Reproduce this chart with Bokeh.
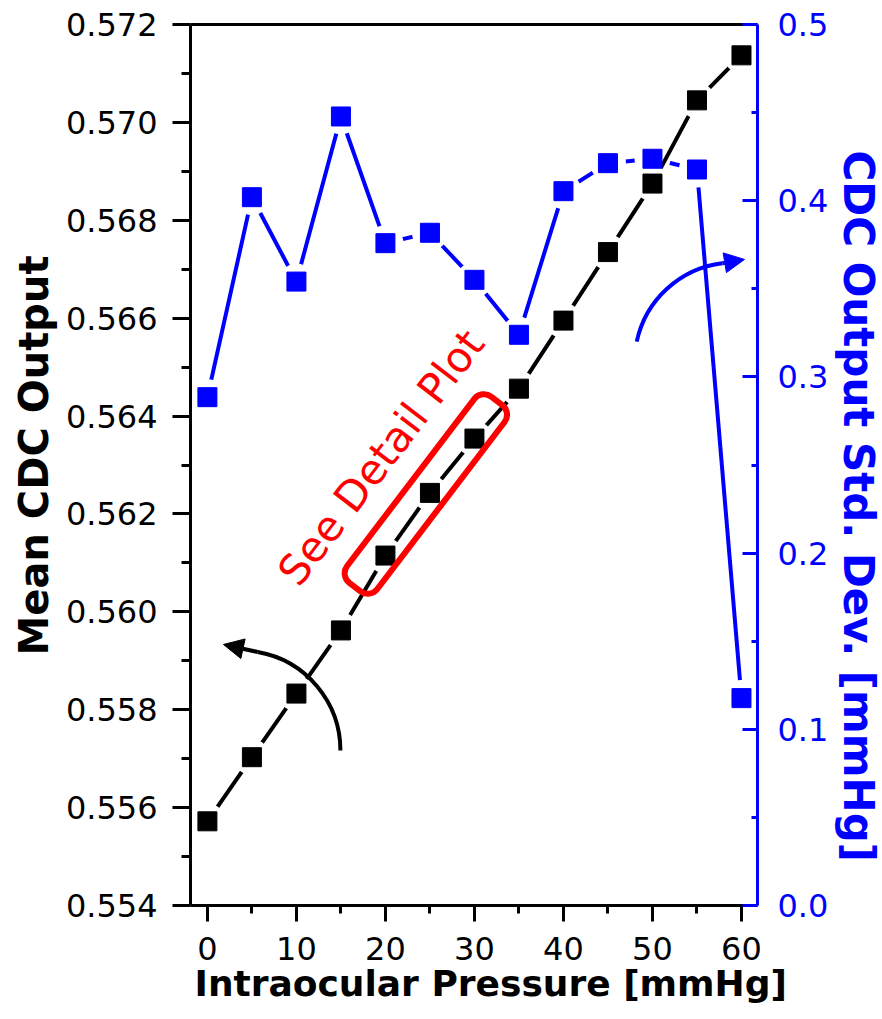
from bokeh.plotting import figure
from bokeh.models import (Range1d, LinearAxis, FixedTicker, PrintfTickFormatter,
                          Label, Arrow, NormalHead, Title)
from bokeh.embed import file_html
from bokeh.resources import INLINE

# ---------------- data ----------------
pressure = [0, 5, 10, 15, 20, 25, 30, 35, 40, 45, 50, 55, 60]
mean_cdc = [0.55572, 0.55703, 0.55833, 0.55962, 0.56115, 0.56243, 0.56354,
            0.56456, 0.56595, 0.56735, 0.56875, 0.57045, 0.57137]
std_cdc = [0.2885, 0.4020, 0.3541, 0.4478, 0.3759, 0.3818, 0.3551,
           0.3239, 0.4054, 0.4213, 0.4238, 0.4177, 0.1177]

x_ticks = [0, 10, 20, 30, 40, 50, 60]
x_minor = [5, 15, 25, 35, 45, 55]
left_ticks = [0.554, 0.556, 0.558, 0.560, 0.562, 0.564, 0.566, 0.568, 0.570, 0.572]
left_minor = [0.555, 0.557, 0.559, 0.561, 0.563, 0.565, 0.567, 0.569, 0.571]
right_ticks = [0.0, 0.1, 0.2, 0.3, 0.4, 0.5]
right_minor = [0.05, 0.15, 0.25, 0.35, 0.45]

x_title = "Intraocular Pressure [mmHg]"
left_title = "Mean CDC Output"
right_title = "CDC Output Std. Dev. [mmHg]"
note_text = "See Detail Plot"

BLUE = "#0000FF"
RED = "#FF0000"
FONT = "DejaVu Sans"

p = figure(width=882, height=1019,
           x_range=Range1d(-1.9, 61.8), y_range=Range1d(0.554, 0.572),
           output_backend="svg", toolbar_location=None,
           min_border_left=190, min_border_right=124,
           min_border_top=24, min_border_bottom=114)
p.extra_y_ranges = {"sd": Range1d(0.0, 0.5)}
p.xgrid.visible = False
p.ygrid.visible = False
p.outline_line_color = None
p.background_fill_color = "white"
p.border_fill_color = "white"


def style_axis(ax, color):
    ax.axis_line_width = 3
    ax.axis_line_color = color
    ax.major_tick_line_width = 3
    ax.minor_tick_line_width = 3
    ax.major_tick_line_color = color
    ax.minor_tick_line_color = color
    ax.major_label_text_font = FONT
    ax.major_label_text_font_size = "32px"
    ax.major_label_text_color = color


# bottom axis
xa = p.xaxis[0]
style_axis(xa, "black")
xa.ticker = FixedTicker(ticks=x_ticks, minor_ticks=x_minor)
xa.major_tick_out = 16
xa.major_tick_in = 0
xa.minor_tick_out = 8
xa.minor_tick_in = 0
xa.major_label_standoff = 15

# left axis
ya = p.yaxis[0]
style_axis(ya, "black")
ya.ticker = FixedTicker(ticks=left_ticks, minor_ticks=left_minor)
ya.formatter = PrintfTickFormatter(format="%.3f")
ya.major_tick_out = 18
ya.major_tick_in = 0
ya.minor_tick_out = 9
ya.minor_tick_in = 0
ya.major_label_standoff = 15

# right axis
ra = LinearAxis(y_range_name="sd",
                ticker=FixedTicker(ticks=right_ticks, minor_ticks=right_minor),
                formatter=PrintfTickFormatter(format="%.1f"))
style_axis(ra, BLUE)
ra.major_tick_in = 15
ra.major_tick_out = 0
ra.minor_tick_in = 6
ra.minor_tick_out = 0
ra.major_label_standoff = 20
p.add_layout(ra, "right")

# top frame line
ta = LinearAxis(ticker=FixedTicker(ticks=[]))
ta.axis_line_width = 3
ta.axis_line_color = "black"
ta.major_tick_out = 0
ta.major_tick_in = 0
ta.minor_tick_out = 0
ta.minor_tick_in = 0
ta.major_label_text_font_size = "0px"
p.add_layout(ta, "above")

# axis titles (outside the axes)
p.add_layout(Title(text=left_title, align="left", offset=250,
                   vertical_align="middle", standoff=10,
                   text_font=FONT, text_font_size="40px", text_font_style="bold",
                   text_color="black"), "left")
p.add_layout(Title(text=right_title, align="left", offset=126,
                   vertical_align="top", standoff=0,
                   text_font=FONT, text_font_size="42px", text_font_style="bold",
                   text_color=BLUE), "right")
p.add_layout(Title(text=x_title, align="left", offset=4,
                   vertical_align="top", standoff=0,
                   text_font=FONT, text_font_size="36px", text_font_style="bold",
                   text_color="black"), "below")

# ---------------- series ----------------
p.line(pressure, std_cdc, y_range_name="sd", line_color=BLUE, line_width=4)
p.scatter(pressure, std_cdc, y_range_name="sd", marker="circle", size=36,
          fill_color="white", line_color=None)
p.line(pressure, mean_cdc, line_color="black", line_width=4)
p.scatter(pressure, mean_cdc, marker="circle", size=36,
          fill_color="white", line_color=None)
p.scatter(pressure, std_cdc, y_range_name="sd", marker="square", size=19,
          fill_color=BLUE, line_color=BLUE)
p.scatter(pressure, mean_cdc, marker="square", size=19,
          fill_color="black", line_color="black")

# ---------------- annotations ----------------
# curved arrow pointing to the left axis
p.arc(x=[3.707], y=[0.557167], radius=100, radius_units="screen",
      start_angle=0, end_angle=80, start_angle_units="deg", end_angle_units="deg",
      line_color="black", line_width=4)
p.add_layout(Arrow(x_start=5.659, y_start=0.559180, x_end=1.801, y_end=0.559333,
                   line_color="black", line_width=4,
                   end=NormalHead(size=20, fill_color="black", line_color="black",
                                  line_width=1)))

# curved arrow pointing to the right axis
p.arc(x=[59.22], y=[0.565095], radius=100, radius_units="screen",
      start_angle=97, end_angle=168, start_angle_units="deg", end_angle_units="deg",
      line_color=BLUE, line_width=4)
p.add_layout(Arrow(x_start=57.85, y_start=0.567124, x_end=60.34, y_end=0.567200,
                   line_color=BLUE, line_width=4,
                   end=NormalHead(size=20, fill_color=BLUE, line_color=BLUE,
                                  line_width=1)))

# red rounded box and note
p.rect(x=[24.54], y=[0.562408], width=234, height=38,
       width_units="screen", height_units="screen",
       angle=52.7, angle_units="deg", fill_color=None,
       line_color=RED, line_width=6, border_radius=12)
p.add_layout(Label(x=19.52, y=0.563154, text=note_text, angle=52.5,
                   angle_units="deg", text_align="center", text_baseline="middle",
                   text_color=RED, text_font=FONT, text_font_size="42px"))

open("out.html", "w").write(file_html(p, INLINE))
